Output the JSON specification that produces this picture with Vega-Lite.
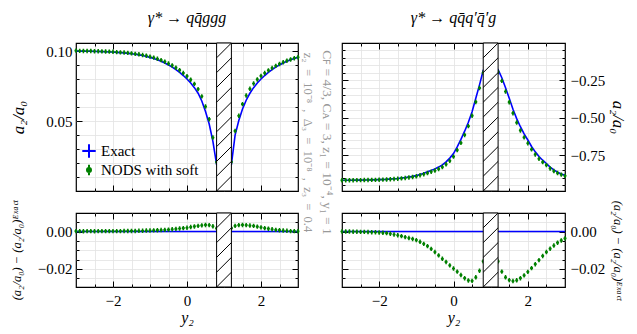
{
  "$schema": "https://vega.github.io/schema/vega-lite/v6.json",
  "padding": {"left": 9, "top": 8, "right": 5, "bottom": 5},
  "background": "white",
  "datasets": {
    "curves": [
      {"x":-3.0,"e1":0.1003,"d1":0.0002,"n1":0.1005,"e2":-0.9182,"d2":0.0000,"n2":-0.9182},
      {"x":-2.9,"e1":0.1002,"d1":0.0002,"n1":0.1004,"e2":-0.9181,"d2":0.0000,"n2":-0.9181},
      {"x":-2.8,"e1":0.1002,"d1":0.0001,"n1":0.1003,"e2":-0.9179,"d2":0.0000,"n2":-0.9179},
      {"x":-2.7,"e1":0.1001,"d1":0.0002,"n1":0.1003,"e2":-0.9176,"d2":-0.0001,"n2":-0.9177},
      {"x":-2.6,"e1":0.1001,"d1":0.0002,"n1":0.1003,"e2":-0.9173,"d2":-0.0001,"n2":-0.9174},
      {"x":-2.5,"e1":0.1000,"d1":0.0001,"n1":0.1001,"e2":-0.9170,"d2":-0.0002,"n2":-0.9172},
      {"x":-2.4,"e1":0.0999,"d1":0.0002,"n1":0.1001,"e2":-0.9165,"d2":-0.0002,"n2":-0.9167},
      {"x":-2.3,"e1":0.0998,"d1":0.0002,"n1":0.1000,"e2":-0.9160,"d2":-0.0003,"n2":-0.9163},
      {"x":-2.2,"e1":0.0997,"d1":0.0002,"n1":0.0999,"e2":-0.9155,"d2":-0.0004,"n2":-0.9159},
      {"x":-2.1,"e1":0.0996,"d1":0.0002,"n1":0.0998,"e2":-0.9150,"d2":-0.0004,"n2":-0.9154},
      {"x":-2.0,"e1":0.0995,"d1":0.0002,"n1":0.0997,"e2":-0.9140,"d2":-0.0005,"n2":-0.9145},
      {"x":-1.9,"e1":0.0993,"d1":0.0002,"n1":0.0995,"e2":-0.9130,"d2":-0.0007,"n2":-0.9137},
      {"x":-1.8,"e1":0.0991,"d1":0.0002,"n1":0.0993,"e2":-0.9120,"d2":-0.0009,"n2":-0.9129},
      {"x":-1.7,"e1":0.0989,"d1":0.0003,"n1":0.0992,"e2":-0.9100,"d2":-0.0012,"n2":-0.9112},
      {"x":-1.6,"e1":0.0986,"d1":0.0003,"n1":0.0989,"e2":-0.9080,"d2":-0.0016,"n2":-0.9096},
      {"x":-1.5,"e1":0.0983,"d1":0.0003,"n1":0.0986,"e2":-0.9060,"d2":-0.0020,"n2":-0.9080},
      {"x":-1.4,"e1":0.0979,"d1":0.0003,"n1":0.0982,"e2":-0.9030,"d2":-0.0025,"n2":-0.9055},
      {"x":-1.3,"e1":0.0975,"d1":0.0004,"n1":0.0979,"e2":-0.9000,"d2":-0.0030,"n2":-0.9030},
      {"x":-1.2,"e1":0.0970,"d1":0.0004,"n1":0.0974,"e2":-0.8960,"d2":-0.0035,"n2":-0.8995},
      {"x":-1.1,"e1":0.0964,"d1":0.0005,"n1":0.0969,"e2":-0.8920,"d2":-0.0040,"n2":-0.8960},
      {"x":-1.0,"e1":0.0957,"d1":0.0005,"n1":0.0962,"e2":-0.8870,"d2":-0.0046,"n2":-0.8916},
      {"x":-0.9,"e1":0.0949,"d1":0.0006,"n1":0.0955,"e2":-0.8790,"d2":-0.0055,"n2":-0.8845},
      {"x":-0.8,"e1":0.0940,"d1":0.0007,"n1":0.0947,"e2":-0.8710,"d2":-0.0066,"n2":-0.8776},
      {"x":-0.7,"e1":0.0929,"d1":0.0008,"n1":0.0937,"e2":-0.8620,"d2":-0.0078,"n2":-0.8698},
      {"x":-0.6,"e1":0.0917,"d1":0.0009,"n1":0.0926,"e2":-0.8520,"d2":-0.0093,"n2":-0.8613},
      {"x":-0.5,"e1":0.0903,"d1":0.0010,"n1":0.0913,"e2":-0.8420,"d2":-0.0110,"n2":-0.8530},
      {"x":-0.4,"e1":0.0887,"d1":0.0012,"n1":0.0899,"e2":-0.8300,"d2":-0.0128,"n2":-0.8428},
      {"x":-0.3,"e1":0.0869,"d1":0.0014,"n1":0.0883,"e2":-0.8150,"d2":-0.0146,"n2":-0.8296},
      {"x":-0.2,"e1":0.0849,"d1":0.0016,"n1":0.0865,"e2":-0.7950,"d2":-0.0163,"n2":-0.8113},
      {"x":-0.1,"e1":0.0827,"d1":0.0018,"n1":0.0845,"e2":-0.7700,"d2":-0.0181,"n2":-0.7881},
      {"x":0.0,"e1":0.0802,"d1":0.0020,"n1":0.0822,"e2":-0.7400,"d2":-0.0198,"n2":-0.7598},
      {"x":0.1,"e1":0.0773,"d1":0.0024,"n1":0.0797,"e2":-0.6950,"d2":-0.0215,"n2":-0.7165},
      {"x":0.2,"e1":0.0740,"d1":0.0027,"n1":0.0767,"e2":-0.6450,"d2":-0.0233,"n2":-0.6683},
      {"x":0.3,"e1":0.0700,"d1":0.0030,"n1":0.0730,"e2":-0.5900,"d2":-0.0250,"n2":-0.6150},
      {"x":0.4,"e1":0.0645,"d1":0.0033,"n1":0.0678,"e2":-0.5300,"d2":-0.0262,"n2":-0.5562},
      {"x":0.5,"e1":0.0570,"d1":0.0035,"n1":0.0605,"e2":-0.4600,"d2":-0.0264,"n2":-0.4864},
      {"x":0.6,"e1":0.0480,"d1":0.0034,"n1":0.0514,"e2":-0.3700,"d2":-0.0245,"n2":-0.3945},
      {"x":0.7,"e1":0.0355,"d1":0.0028,"n1":0.0383,"e2":-0.2800,"d2":-0.0210,"n2":-0.3010},
      {"x":0.8,"e1":0.0190,"d1":0.0017,"n1":0.0207,"e2":-0.1830,"d2":-0.0160,"n2":-0.1990},
      {"x":1.2,"e1":0.0190,"d1":0.0018,"n1":0.0208,"e2":-0.1780,"d2":-0.0160,"n2":-0.1940},
      {"x":1.3,"e1":0.0400,"d1":0.0030,"n1":0.0430,"e2":-0.2320,"d2":-0.0215,"n2":-0.2535},
      {"x":1.4,"e1":0.0505,"d1":0.0034,"n1":0.0539,"e2":-0.3000,"d2":-0.0245,"n2":-0.3245},
      {"x":1.5,"e1":0.0587,"d1":0.0035,"n1":0.0622,"e2":-0.3700,"d2":-0.0260,"n2":-0.3960},
      {"x":1.6,"e1":0.0650,"d1":0.0034,"n1":0.0684,"e2":-0.4430,"d2":-0.0265,"n2":-0.4695},
      {"x":1.7,"e1":0.0700,"d1":0.0032,"n1":0.0732,"e2":-0.5060,"d2":-0.0261,"n2":-0.5321},
      {"x":1.8,"e1":0.0740,"d1":0.0030,"n1":0.0770,"e2":-0.5600,"d2":-0.0250,"n2":-0.5850},
      {"x":1.9,"e1":0.0773,"d1":0.0026,"n1":0.0799,"e2":-0.6080,"d2":-0.0235,"n2":-0.6315},
      {"x":2.0,"e1":0.0802,"d1":0.0022,"n1":0.0824,"e2":-0.6490,"d2":-0.0216,"n2":-0.6706},
      {"x":2.1,"e1":0.0827,"d1":0.0018,"n1":0.0845,"e2":-0.6920,"d2":-0.0196,"n2":-0.7116},
      {"x":2.2,"e1":0.0849,"d1":0.0015,"n1":0.0864,"e2":-0.7280,"d2":-0.0175,"n2":-0.7455},
      {"x":2.3,"e1":0.0869,"d1":0.0012,"n1":0.0881,"e2":-0.7590,"d2":-0.0153,"n2":-0.7743},
      {"x":2.4,"e1":0.0887,"d1":0.0009,"n1":0.0896,"e2":-0.7840,"d2":-0.0131,"n2":-0.7971},
      {"x":2.5,"e1":0.0903,"d1":0.0007,"n1":0.0910,"e2":-0.8060,"d2":-0.0110,"n2":-0.8170},
      {"x":2.6,"e1":0.0917,"d1":0.0005,"n1":0.0922,"e2":-0.8300,"d2":-0.0092,"n2":-0.8392},
      {"x":2.7,"e1":0.0929,"d1":0.0004,"n1":0.0933,"e2":-0.8490,"d2":-0.0075,"n2":-0.8565},
      {"x":2.8,"e1":0.0940,"d1":0.0002,"n1":0.0942,"e2":-0.8640,"d2":-0.0060,"n2":-0.8700},
      {"x":2.9,"e1":0.0949,"d1":0.0002,"n1":0.0951,"e2":-0.8760,"d2":-0.0048,"n2":-0.8808},
      {"x":3.0,"e1":0.0957,"d1":0.0001,"n1":0.0958,"e2":-0.8850,"d2":-0.0037,"n2":-0.8887}
    ],
    "cut": [{"lo": 0.8, "hi": 1.2}],
    "hatch": [
      {"lo":0.8,"hi":1.2,"h":-0.1,"h2":0.0},
      {"lo":0.8,"hi":1.2,"h":0.0,"h2":0.1},
      {"lo":0.8,"hi":1.2,"h":0.1,"h2":0.2},
      {"lo":0.8,"hi":1.2,"h":0.2,"h2":0.3},
      {"lo":0.8,"hi":1.2,"h":0.3,"h2":0.4},
      {"lo":0.8,"hi":1.2,"h":0.4,"h2":0.5},
      {"lo":0.8,"hi":1.2,"h":0.5,"h2":0.6},
      {"lo":0.8,"hi":1.2,"h":0.6,"h2":0.7},
      {"lo":0.8,"hi":1.2,"h":0.7,"h2":0.8},
      {"lo":0.8,"hi":1.2,"h":0.8,"h2":0.9},
      {"lo":0.8,"hi":1.2,"h":0.9,"h2":1.0},
      {"lo":0.8,"hi":1.2,"h":1.0,"h2":1.1}
    ]
  },
  "data": {"name": "curves"},
  "config": {
    "font": "Liberation Serif",
    "view": {"stroke": "black", "strokeWidth": 1.2},
    "axis": {
      "labelFont": "Liberation Serif", "labelFontSize": 15, "labelColor": "black",
      "titleFont": "Liberation Serif", "titleFontWeight": "normal", "titleColor": "black",
      "tickColor": "black", "tickWidth": 1, "domain": false,
      "gridColor": "#e2e2e2", "gridWidth": 0.8
    }
  },
  "bounds": "flush",
  "columns": 2,
  "spacing": {"row": 22, "column": 44},
  "resolve": {"scale": {"color": "independent", "shape": "independent"}, "legend": {"color": "independent", "shape": "independent"}},
  "concat": [
        {
          "width": 222, "height": 148,
          "title": {"text": "γ* → qq̄ggg", "font": "Liberation Serif", "fontSize": 16, "fontStyle": "italic", "fontWeight": "normal", "anchor": "middle", "frame": "group", "offset": 17},
          "layer": [
            {
              "mark": {"type": "line", "color": "#0000ff", "strokeWidth": 1.6},
              "encoding": {
                "x": {"field": "x", "type": "quantitative", "scale": {"domain": [-3, 3]},
                  "axis": {"orient": "bottom", "values": [-2.5,-2,-1.5,-1,-0.5,0,0.5,1,1.5,2,2.5], "labels": false, "title": null, "grid": true,
                    "tickSize": {"condition": {"test": "abs(datum.value % 2) < 0.01", "value": -6}, "value": -3}}},
                "y": {"field": "e1", "type": "quantitative", "scale": {"domain": [0, 0.106]},
                  "axis": {"orient": "left", "values": [0.01,0.02,0.03,0.04,0.05,0.06,0.07,0.08,0.09,0.1], "format": ".2f",
                    "labelExpr": "abs(round(datum.value*100) % 5) < 0.5 ? datum.label : ''", "labelPadding": 10, "grid": true,
                    "tickSize": {"condition": {"test": "abs(round(datum.value*100) % 5) < 0.5", "value": -6}, "value": -3},
                    "title": "a₂/a₀", "titleFontStyle": "italic", "titleFontSize": 17, "titlePadding": 18}}
              }
            },
            {
              "transform": [{"fold": ["n1"], "as": ["series", "v"]}],
              "mark": {"type": "point", "filled": false, "strokeWidth": 1.5, "size": 30, "opacity": 1},
              "encoding": {
                "x": {"field": "x", "type": "quantitative", "scale": {"domain": [-3, 3]},
                  "axis": {"orient": "top", "values": [-2.5,-2,-1.5,-1,-0.5,0,0.5,1,1.5,2,2.5], "labels": false, "title": null, "grid": false,
                    "tickSize": {"condition": {"test": "abs(datum.value % 2) < 0.01", "value": -6}, "value": -3}}},
                "y": {"field": "v", "type": "quantitative", "scale": {"domain": [0, 0.106]},
                  "axis": {"orient": "right", "values": [0.01,0.02,0.03,0.04,0.05,0.06,0.07,0.08,0.09,0.1], "labels": false, "grid": false,
                    "tickSize": {"condition": {"test": "abs(round(datum.value*100) % 5) < 0.5", "value": -6}, "value": -3},
                    "title": "z₂\u2002=\u200210⁻⁸\u2002,\u2002Δ₃\u2002=\u200210⁻⁸\u2002,\u2002z₃\u2002=\u20020.4", "titleColor": "#999999", "titleFontSize": 12.5, "titleAngle": 90, "titleAlign": "center", "titleY": 99, "titlePadding": 2}},
                "color": {"field": "series", "type": "nominal", "scale": {"domain": ["e1", "n1"], "range": ["#0000ff", "#008000"]},
                  "legend": {"orient": "none", "legendX": 5, "legendY": 100, "title": null, "labelExpr": "datum.value == 'e1' ? 'Exact' : 'NODS with soft'", "labelFont": "Liberation Serif", "labelFontSize": 15, "symbolSize": 180, "symbolStrokeWidth": 2, "rowPadding": -4, "labelOffset": 4, "padding": 0}},
                "shape": {"field": "series", "type": "nominal", "scale": {"domain": ["e1", "n1"], "range": ["M-1,0H1M0,-1V1", "M0,-0.8V0.8M-0.3,0a0.3,0.3 0 1,0 0.6,0a0.3,0.3 0 1,0 -0.6,0"]},
                  "legend": {"orient": "none", "legendX": 5, "legendY": 100, "title": null, "labelExpr": "datum.value == 'e1' ? 'Exact' : 'NODS with soft'", "labelFont": "Liberation Serif", "labelFontSize": 15, "symbolSize": 180, "symbolStrokeWidth": 2, "rowPadding": -4, "labelOffset": 4, "padding": 0}}
              }
            },
            {
              "data": {"name": "cut"},
              "mark": {"type": "rect", "fill": "white", "stroke": "black", "strokeWidth": 1},
              "encoding": {"x": {"field": "lo", "type": "quantitative", "scale": {"domain": [-3, 3]}, "axis": null}, "x2": {"field": "hi"}}
            },
            {
              "data": {"name": "hatch"},
              "mark": {"type": "rule", "clip": true, "color": "black", "strokeWidth": 1},
              "encoding": {
                "x": {"field": "lo", "type": "quantitative", "scale": {"domain": [-3, 3]}, "axis": null}, "x2": {"field": "hi"},
                "y": {"field": "h", "type": "quantitative", "scale": {"domain": [0, 1]}, "axis": null}, "y2": {"field": "h2"}
              }
            }
          ],
          "resolve": {"scale": {"y": "independent"}, "axis": {"x": "independent", "y": "independent"}}
        },
        {
          "width": 223, "height": 148,
          "title": {"text": "γ* → qq̄q′q̄′g", "font": "Liberation Serif", "fontSize": 16, "fontStyle": "italic", "fontWeight": "normal", "anchor": "middle", "frame": "group", "offset": 17},
          "layer": [
            {
              "mark": {"type": "line", "color": "#0000ff", "strokeWidth": 1.6},
              "encoding": {
                "x": {"field": "x", "type": "quantitative", "scale": {"domain": [-3, 3]},
                  "axis": {"orient": "bottom", "values": [-2.5,-2,-1.5,-1,-0.5,0,0.5,1,1.5,2,2.5], "labels": false, "title": null, "grid": true,
                    "tickSize": {"condition": {"test": "abs(datum.value % 2) < 0.01", "value": -6}, "value": -3}}},
                "y": {"field": "e2", "type": "quantitative", "scale": {"domain": [-0.99, 0.0]},
                  "axis": {"orient": "left", "values": [-0.95,-0.9,-0.85,-0.8,-0.75,-0.7,-0.65,-0.6,-0.55,-0.5,-0.45,-0.4,-0.35,-0.3,-0.25,-0.2,-0.15,-0.1,-0.05], "labels": false, "grid": true,
                    "tickSize": {"condition": {"test": "abs(round(datum.value*100) % 25) < 0.5", "value": -6}, "value": -3},
                    "title": "Cꜰ = 4/3, Cᴀ = 3, z₁ = 10⁻⁴, y₁ = 1", "titleColor": "#999999", "titleFontSize": 13.5, "titleAngle": 90, "titleAlign": "center", "titleBaseline": "top", "titleY": 99, "titlePadding": 8}}
              }
            },
            {
              "mark": {"type": "point", "filled": false, "strokeWidth": 1.5, "size": 30, "opacity": 1, "color": "#008000",
                "shape": "M0,-0.8V0.8M-0.3,0a0.3,0.3 0 1,0 0.6,0a0.3,0.3 0 1,0 -0.6,0"},
              "encoding": {
                "x": {"field": "x", "type": "quantitative", "scale": {"domain": [-3, 3]},
                  "axis": {"orient": "top", "values": [-2.5,-2,-1.5,-1,-0.5,0,0.5,1,1.5,2,2.5], "labels": false, "title": null, "grid": false,
                    "tickSize": {"condition": {"test": "abs(datum.value % 2) < 0.01", "value": -6}, "value": -3}}},
                "y": {"field": "n2", "type": "quantitative", "scale": {"domain": [-0.99, 0.0]},
                  "axis": {"orient": "right", "values": [-0.95,-0.9,-0.85,-0.8,-0.75,-0.7,-0.65,-0.6,-0.55,-0.5,-0.45,-0.4,-0.35,-0.3,-0.25,-0.2,-0.15,-0.1,-0.05], "format": ".2f",
                    "labelExpr": "abs(round(datum.value*100) % 25) < 0.5 ? datum.label : ''", "labelPadding": 11, "grid": false,
                    "tickSize": {"condition": {"test": "abs(round(datum.value*100) % 25) < 0.5", "value": -6}, "value": -3},
                    "title": "a₂/a₀", "titleFontStyle": "italic", "titleFontSize": 17, "titlePadding": 4}}
              }
            },
            {
              "data": {"name": "cut"},
              "mark": {"type": "rect", "fill": "white", "stroke": "black", "strokeWidth": 1},
              "encoding": {"x": {"field": "lo", "type": "quantitative", "scale": {"domain": [-3, 3]}, "axis": null}, "x2": {"field": "hi"}}
            },
            {
              "data": {"name": "hatch"},
              "mark": {"type": "rule", "clip": true, "color": "black", "strokeWidth": 1},
              "encoding": {
                "x": {"field": "lo", "type": "quantitative", "scale": {"domain": [-3, 3]}, "axis": null}, "x2": {"field": "hi"},
                "y": {"field": "h", "type": "quantitative", "scale": {"domain": [0, 1]}, "axis": null}, "y2": {"field": "h2"}
              }
            }
          ],
          "resolve": {"scale": {"y": "independent"}, "axis": {"x": "independent", "y": "independent"}}
        },
        {
          "width": 222, "height": 74,
          "layer": [
            {
              "mark": {"type": "line", "color": "#0000ff", "strokeWidth": 1.6},
              "encoding": {
                "x": {"field": "x", "type": "quantitative", "scale": {"domain": [-3, 3]},
                  "axis": {"orient": "bottom", "values": [-2.5,-2,-1.5,-1,-0.5,0,0.5,1,1.5,2,2.5], "format": ".0f",
                    "labelExpr": "abs(datum.value % 2) < 0.01 ? datum.label : ''", "labelPadding": 12, "grid": true,
                    "tickSize": {"condition": {"test": "abs(datum.value % 2) < 0.01", "value": -6}, "value": -3},
                    "title": "y₂", "titleFontStyle": "italic", "titleFontSize": 16, "titlePadding": 1}},
                "y": {"datum": 0, "type": "quantitative", "scale": {"domain": [-0.0297, 0.0099]},
                  "axis": {"orient": "left", "values": [-0.025,-0.02,-0.015,-0.01,-0.005,0,0.005], "format": ".2f",
                    "labelExpr": "abs(round(datum.value*1000) % 20) < 0.5 ? datum.label : ''", "labelPadding": 10, "grid": true,
                    "tickSize": {"condition": {"test": "abs(round(datum.value*1000) % 20) < 0.5", "value": -6}, "value": -3},
                    "title": "(a₂/a₀) − (a₂/a₀)ᴱˣᵃᶜᵗ", "titleFontStyle": "italic", "titleFontSize": 12.5, "titlePadding": 14}}
              }
            },
            {
              "mark": {"type": "point", "filled": false, "strokeWidth": 1.5, "size": 30, "opacity": 1, "color": "#008000",
                "shape": "M0,-0.8V0.8M-0.3,0a0.3,0.3 0 1,0 0.6,0a0.3,0.3 0 1,0 -0.6,0"},
              "encoding": {
                "x": {"field": "x", "type": "quantitative", "scale": {"domain": [-3, 3]},
                  "axis": {"orient": "top", "values": [-2.5,-2,-1.5,-1,-0.5,0,0.5,1,1.5,2,2.5], "labels": false, "title": null, "grid": false,
                    "tickSize": {"condition": {"test": "abs(datum.value % 2) < 0.01", "value": -6}, "value": -3}}},
                "y": {"field": "d1", "type": "quantitative", "scale": {"domain": [-0.0297, 0.0099]},
                  "axis": {"orient": "right", "values": [-0.025,-0.02,-0.015,-0.01,-0.005,0,0.005], "labels": false, "grid": false, "title": null,
                    "tickSize": {"condition": {"test": "abs(round(datum.value*1000) % 20) < 0.5", "value": -6}, "value": -3}}}
              }
            },
            {
              "data": {"name": "cut"},
              "mark": {"type": "rect", "fill": "white", "stroke": "black", "strokeWidth": 1},
              "encoding": {"x": {"field": "lo", "type": "quantitative", "scale": {"domain": [-3, 3]}, "axis": null}, "x2": {"field": "hi"}}
            },
            {
              "data": {"name": "hatch"},
              "mark": {"type": "rule", "clip": true, "color": "black", "strokeWidth": 1},
              "encoding": {
                "x": {"field": "lo", "type": "quantitative", "scale": {"domain": [-3, 3]}, "axis": null}, "x2": {"field": "hi"},
                "y": {"field": "h", "type": "quantitative", "scale": {"domain": [0, 0.5]}, "axis": null}, "y2": {"field": "h2"}
              }
            }
          ],
          "resolve": {"scale": {"y": "independent"}, "axis": {"x": "independent", "y": "independent"}}
        },
        {
          "width": 223, "height": 74,
          "layer": [
            {
              "mark": {"type": "line", "color": "#0000ff", "strokeWidth": 1.6},
              "encoding": {
                "x": {"field": "x", "type": "quantitative", "scale": {"domain": [-3, 3]},
                  "axis": {"orient": "bottom", "values": [-2.5,-2,-1.5,-1,-0.5,0,0.5,1,1.5,2,2.5], "format": ".0f",
                    "labelExpr": "abs(datum.value % 2) < 0.01 ? datum.label : ''", "labelPadding": 12, "grid": true,
                    "tickSize": {"condition": {"test": "abs(datum.value % 2) < 0.01", "value": -6}, "value": -3},
                    "title": "y₂", "titleFontStyle": "italic", "titleFontSize": 16, "titlePadding": 1}},
                "y": {"datum": 0, "type": "quantitative", "scale": {"domain": [-0.0297, 0.0099]},
                  "axis": {"orient": "left", "values": [-0.025,-0.02,-0.015,-0.01,-0.005,0,0.005], "labels": false, "grid": true, "title": null,
                    "tickSize": {"condition": {"test": "abs(round(datum.value*1000) % 20) < 0.5", "value": -6}, "value": -3}}}
              }
            },
            {
              "mark": {"type": "point", "filled": false, "strokeWidth": 1.5, "size": 30, "opacity": 1, "color": "#008000",
                "shape": "M0,-0.8V0.8M-0.3,0a0.3,0.3 0 1,0 0.6,0a0.3,0.3 0 1,0 -0.6,0"},
              "encoding": {
                "x": {"field": "x", "type": "quantitative", "scale": {"domain": [-3, 3]},
                  "axis": {"orient": "top", "values": [-2.5,-2,-1.5,-1,-0.5,0,0.5,1,1.5,2,2.5], "labels": false, "title": null, "grid": false,
                    "tickSize": {"condition": {"test": "abs(datum.value % 2) < 0.01", "value": -6}, "value": -3}}},
                "y": {"field": "d2", "type": "quantitative", "scale": {"domain": [-0.0297, 0.0099]},
                  "axis": {"orient": "right", "values": [-0.025,-0.02,-0.015,-0.01,-0.005,0,0.005], "format": ".2f",
                    "labelExpr": "abs(round(datum.value*1000) % 20) < 0.5 ? datum.label : ''", "labelPadding": 11, "grid": false,
                    "tickSize": {"condition": {"test": "abs(round(datum.value*1000) % 20) < 0.5", "value": -6}, "value": -3},
                    "title": "(a₂/a₀) − (a₂/a₀)ᴱˣᵃᶜᵗ", "titleFontStyle": "italic", "titleFontSize": 12.5, "titlePadding": 6}}
              }
            },
            {
              "data": {"name": "cut"},
              "mark": {"type": "rect", "fill": "white", "stroke": "black", "strokeWidth": 1},
              "encoding": {"x": {"field": "lo", "type": "quantitative", "scale": {"domain": [-3, 3]}, "axis": null}, "x2": {"field": "hi"}}
            },
            {
              "data": {"name": "hatch"},
              "mark": {"type": "rule", "clip": true, "color": "black", "strokeWidth": 1},
              "encoding": {
                "x": {"field": "lo", "type": "quantitative", "scale": {"domain": [-3, 3]}, "axis": null}, "x2": {"field": "hi"},
                "y": {"field": "h", "type": "quantitative", "scale": {"domain": [0, 0.5]}, "axis": null}, "y2": {"field": "h2"}
              }
            }
          ],
          "resolve": {"scale": {"y": "independent"}, "axis": {"x": "independent", "y": "independent"}}
        }
  ]
}
